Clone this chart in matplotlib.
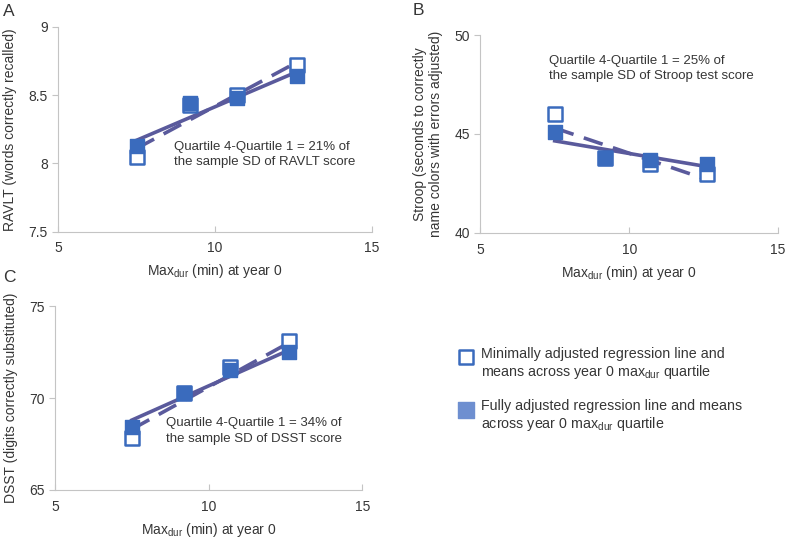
import matplotlib.pyplot as plt
import numpy as np

# quartile midpoints of year 0 max_dur (min)
quart_x = [7.5, 9.2, 10.7, 12.6]

# panel A: RAVLT
ravlt_min = [8.05, 8.43, 8.50, 8.72]
ravlt_full = [8.13, 8.44, 8.48, 8.64]
ravlt_min_line = [8.11, 8.74]
ravlt_full_line = [8.17, 8.67]

# panel B: Stroop
stroop_min = [46.0, 43.8, 43.5, 43.0]
stroop_full = [45.1, 43.8, 43.7, 43.5]
stroop_min_line = [45.3, 42.7]
stroop_full_line = [44.65, 43.35]

# panel C: DSST
dsst_min = [67.8, 70.3, 71.7, 73.1]
dsst_full = [68.4, 70.3, 71.5, 72.5]
dsst_min_line = [68.3, 73.0]
dsst_full_line = [68.8, 72.6]

mark_col = "#3a6bbd"
line_col = "#5a5a9c"
spine_col = "#c4c4c4"
text_col = "#363636"
xlab = "Max$_{dur}$ (min) at year 0"

plt.rcParams['font.family'] = ['Liberation Sans', 'DejaVu Sans']
plt.rcParams['mathtext.default'] = 'regular'

fig = plt.figure(figsize=(7.86, 5.39), dpi=100)


def panel(rect, ymin, ymax, yticks, mins, fulls, min_line, full_line, ylabel, note, note_xy):
    ax = fig.add_axes(rect)
    line_x = [quart_x[0], quart_x[-1]]
    ax.plot(line_x, full_line, color=line_col, lw=2.6, zorder=2)
    ax.plot(line_x, min_line, color=line_col, lw=2.6, ls=(0, (5.5, 3)), zorder=2)
    ax.scatter(quart_x, mins, marker='s', s=90, facecolor='white',
               edgecolor=mark_col, linewidths=1.8, zorder=3)
    ax.scatter(quart_x, fulls, marker='s', s=90, facecolor=mark_col,
               edgecolor=mark_col, linewidths=1.0, zorder=4)
    ax.set_xlim(5, 15)
    ax.set_ylim(ymin, ymax)
    ax.set_xticks([5, 10, 15])
    ax.set_yticks(yticks)
    ax.set_yticklabels([f"{t:g}" for t in yticks])
    for s in ['top', 'right']:
        ax.spines[s].set_visible(False)
    for s in ['left', 'bottom']:
        ax.spines[s].set_color(spine_col)
    ax.tick_params(colors=spine_col, labelcolor=text_col, labelsize=10, length=4)
    ax.tick_params(axis='x', direction='in', pad=7)
    ax.set_xlabel(xlab, fontsize=10, color=text_col, labelpad=5)
    ax.set_ylabel(ylabel, fontsize=10, color=text_col, labelpad=8)
    ax.text(note_xy[0], note_xy[1], note, transform=ax.transAxes,
            fontsize=9.5, color=text_col, va='top', linespacing=1.4)
    return ax


panel([0.074, 0.570, 0.399, 0.380], 7.5, 9, [7.5, 8, 8.5, 9],
      ravlt_min, ravlt_full, ravlt_min_line, ravlt_full_line,
      "RAVLT (words correctly recalled)",
      "Quartile 4-Quartile 1 = 21% of\nthe sample SD of RAVLT score", (0.37, 0.445))
panel([0.611, 0.568, 0.379, 0.367], 40, 50, [40, 45, 50],
      stroop_min, stroop_full, stroop_min_line, stroop_full_line,
      "Stroop (seconds to correctly\nname colors with errors adjusted)",
      "Quartile 4-Quartile 1 = 25% of\nthe sample SD of Stroop test score", (0.23, 0.90))
panel([0.070, 0.091, 0.391, 0.341], 65, 75, [65, 70, 75],
      dsst_min, dsst_full, dsst_min_line, dsst_full_line,
      "DSST (digits correctly substituted)",
      "Quartile 4-Quartile 1 = 34% of\nthe sample SD of DSST score", (0.36, 0.395))

fig.text(0.004, 0.978, "A", fontsize=12.5, va='center', color=text_col)
fig.text(0.525, 0.980, "B", fontsize=12.5, va='center', color=text_col)
fig.text(0.004, 0.486, "C", fontsize=12.5, va='center', color=text_col)

# legend
leg_ax = fig.add_axes([0, 0, 1, 1], facecolor='none')
leg_ax.set_axis_off()
leg_ax.set_xlim(0, 786)
leg_ax.set_ylim(539, 0)
leg_ax.scatter([466], [357], marker='s', s=110, facecolor='white',
               edgecolor=mark_col, linewidths=1.8)
leg_ax.scatter([466], [410], marker='s', s=120, facecolor='#6e8fd0',
               edgecolor='#6e8fd0')
leg_ax.text(481, 364,
            "Minimally adjusted regression line and\nmeans across year 0 max$_{dur}$ quartile",
            fontsize=10.3, color=text_col, va='center', linespacing=1.2)
leg_ax.text(481, 416,
            "Fully adjusted regression line and means\nacross year 0 max$_{dur}$ quartile",
            fontsize=10.3, color=text_col, va='center', linespacing=1.2)

fig.savefig("out.png", dpi=100)
